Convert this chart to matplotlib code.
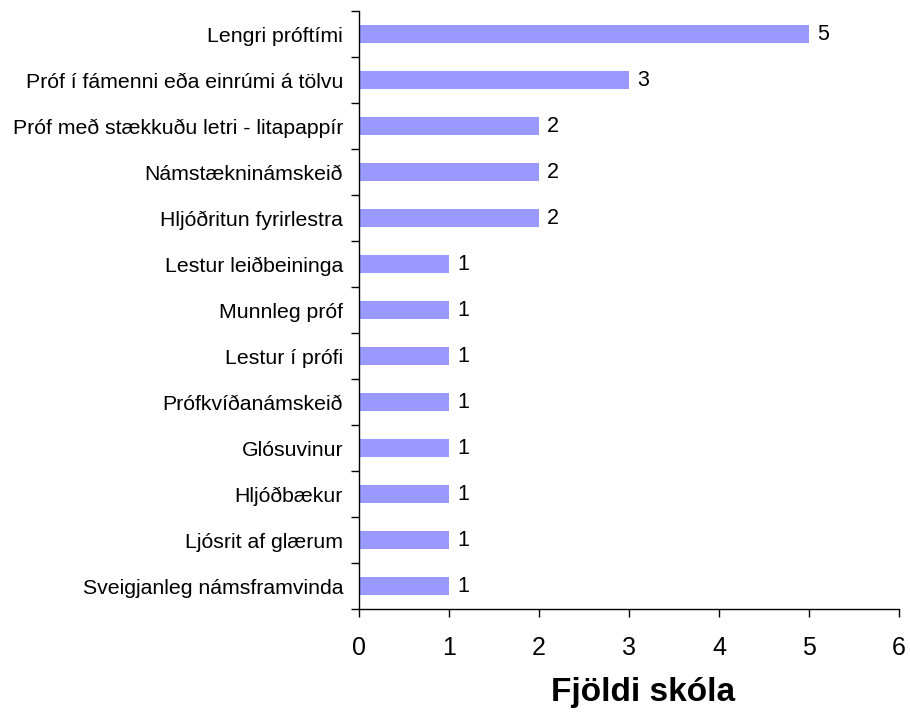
import numpy as np
import matplotlib.pyplot as plt
from matplotlib.ticker import FixedLocator

plt.rcParams['font.family'] = ['Liberation Sans', 'DejaVu Sans']

categories = ["Lengri próftími",
              "Próf í fámenni eða einrúmi á tölvu",
              "Próf með stækkuðu letri - litapappír",
              "Námstækninámskeið",
              "Hljóðritun fyrirlestra",
              "Lestur leiðbeininga",
              "Munnleg próf",
              "Lestur í prófi",
              "Prófkvíðanámskeið",
              "Glósuvinur",
              "Hljóðbækur",
              "Ljósrit af glærum",
              "Sveigjanleg námsframvinda"]
values = [5, 3, 2, 2, 2, 1, 1, 1, 1, 1, 1, 1, 1]

n = len(categories)
ypos = np.arange(n)

fig = plt.figure(figsize=(9.1, 7.12), dpi=100)
ax = fig.add_axes([359/910, 1 - 609/712, 540/910, 598/712])

ax.barh(ypos, values, height=0.39, color="#9999FF")
for y, v in zip(ypos, values):
    ax.text(v + 0.09, y, str(v), va="center", ha="left", fontsize=15.5)

ax.set_ylim(n - 0.5, -0.5)
ax.set_xlim(0, 6)
ax.set_xticks(range(7))
ax.set_yticks(ypos)
ax.set_yticklabels(categories, fontsize=15.3)
ax.yaxis.set_minor_locator(FixedLocator(np.arange(n + 1) - 0.5))
ax.tick_params(axis="y", which="major", length=0, pad=11.5)
ax.tick_params(axis="y", which="minor", length=5.5, width=1, direction="out")
ax.tick_params(axis="x", length=5.5, width=1, direction="out", labelsize=18, pad=14)

for s in ["top", "right"]:
    ax.spines[s].set_visible(False)
for s in ["left", "bottom"]:
    ax.spines[s].set_linewidth(1)

fig.text(643/910, 1 - 692/712, "Fjöldi skóla", ha="center", va="center",
         fontsize=24, fontweight="bold")

fig.savefig("out.png", dpi=100)
